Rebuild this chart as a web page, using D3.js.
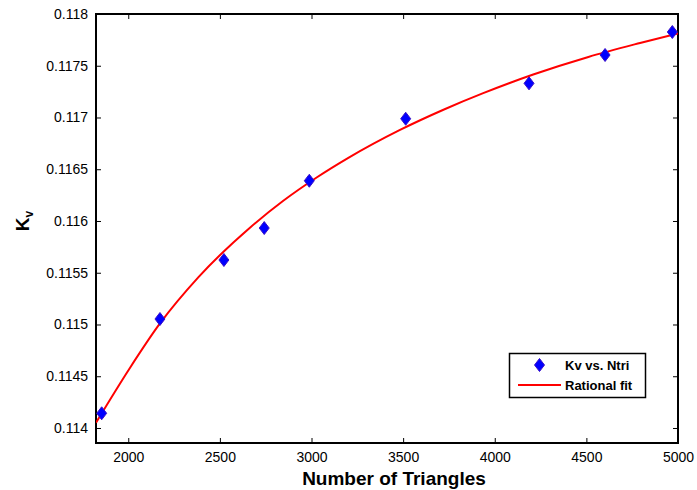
<!DOCTYPE html>
<html><head><meta charset="utf-8">
<script src="https://cdn.jsdelivr.net/npm/d3@7"></script>
<style>body{margin:0;background:#fff;} text{font-family:"Liberation Sans",Arial,sans-serif;}</style>
</head><body>
<svg id="c" width="697" height="490"></svg>
<script>
// Data points: Kv vs. Ntri
const ntri = [1855, 2173, 2522, 2742, 2988, 3514, 4187, 4602, 4969];
const kv = [0.114142, 0.115053, 0.115623, 0.115932, 0.116389, 0.116988, 0.117330, 0.117604, 0.117826];
// Rational fit curve
const fitX = [1824, 2009, 2173, 2382, 2664, 2846, 3028, 3201, 3483, 3720, 3937, 4210, 4511, 4793, 5000];
const fitY = [0.114051, 0.114580, 0.115010, 0.115455, 0.115935, 0.116195, 0.116420, 0.116610, 0.116880, 0.117075, 0.117235, 0.117415, 0.117585, 0.117720, 0.117813];
const xTicks = [2000, 2500, 3000, 3500, 4000, 4500, 5000];
const yTicks = [0.114, 0.1145, 0.115, 0.1155, 0.116, 0.1165, 0.117, 0.1175, 0.118];
const legendLabels = ["Kv vs. Ntri", "Rational fit"];

const svg = d3.select("#c");
const L = 96, R = 678, T = 14, B = 443;
const x = d3.scaleLinear().domain([1824, 5000]).range([L, R]);
const y = d3.scaleLinear().domain([0.113855, 0.118]).range([B, T]);

// Axes with inward ticks
const fmtY = d => String(+d.toFixed(4));
svg.append("g").attr("transform", `translate(0,${B})`)
  .call(d3.axisBottom(x).tickValues(xTicks).tickSize(-5).tickPadding(9).tickFormat(d3.format("d")))
  .call(g => g.select(".domain").remove());
svg.append("g").attr("transform", `translate(0,${T})`)
  .call(d3.axisTop(x).tickValues(xTicks).tickSize(-5).tickFormat(""))
  .call(g => g.select(".domain").remove());
svg.append("g").attr("transform", `translate(${L},0)`)
  .call(d3.axisLeft(y).tickValues(yTicks).tickSize(-5).tickPadding(8).tickFormat(fmtY))
  .call(g => g.select(".domain").remove());
svg.append("g").attr("transform", `translate(${R},0)`)
  .call(d3.axisRight(y).tickValues(yTicks).tickSize(-5).tickFormat(""))
  .call(g => g.select(".domain").remove());
svg.selectAll(".tick line").attr("stroke", "#000").attr("stroke-width", 1);
svg.selectAll(".tick text").attr("font-size", 14).attr("fill", "#000")
  .style("font-family", '"Liberation Sans",Arial,sans-serif');

// Plot box
svg.append("rect").attr("x", L).attr("y", T).attr("width", R - L).attr("height", B - T)
  .attr("fill", "none").attr("stroke", "#000").attr("stroke-width", 2);

// Fit curve
svg.append("clipPath").attr("id", "cp").append("rect")
  .attr("x", L).attr("y", T).attr("width", R - L).attr("height", B - T);
const line = d3.line().x((d, i) => x(fitX[i])).y(d => y(d)).curve(d3.curveMonotoneX);
svg.append("path").datum(fitY).attr("d", line).attr("fill", "none")
  .attr("stroke", "#ff0000").attr("stroke-width", 2).attr("clip-path", "url(#cp)");

// Diamonds
const diamond = (cx, cy, w, h) => `M${cx},${cy - h}L${cx + w},${cy}L${cx},${cy + h}L${cx - w},${cy}Z`;
svg.append("g").selectAll("path").data(kv).join("path")
  .attr("d", (d, i) => diamond(x(ntri[i]), y(d), 5, 6.5))
  .attr("fill", "#0000ff").attr("stroke", "#3a10c8").attr("stroke-width", 1);

// Axis titles
svg.append("text").attr("x", 394).attr("y", 485).attr("text-anchor", "middle")
  .attr("font-size", 19).attr("font-weight", "bold").text("Number of Triangles");
const yl = svg.append("text").attr("transform", "translate(29,221) rotate(-90)")
  .attr("text-anchor", "middle").attr("font-size", 19).attr("font-weight", "bold");
yl.append("tspan").text("K");
yl.append("tspan").attr("font-size", 12).attr("dy", 4).text("v");

// Legend
const lg = svg.append("g");
lg.append("rect").attr("x", 509.5).attr("y", 353.5).attr("width", 136).attr("height", 44)
  .attr("fill", "#fff").attr("stroke", "#000").attr("stroke-width", 1.5);
lg.append("path").attr("d", diamond(539.5, 365, 5, 6.5)).attr("fill", "#0000ff").attr("stroke", "#3a10c8");
lg.append("line").attr("x1", 518).attr("x2", 561).attr("y1", 385).attr("y2", 385)
  .attr("stroke", "#ff0000").attr("stroke-width", 2);
lg.selectAll("text.lt").data(legendLabels).join("text").attr("class", "lt")
  .attr("x", 565).attr("y", (d, i) => 369.5 + i * 20).attr("font-size", 13).attr("font-weight", "bold").text(d => d);
</script>
</body></html>
